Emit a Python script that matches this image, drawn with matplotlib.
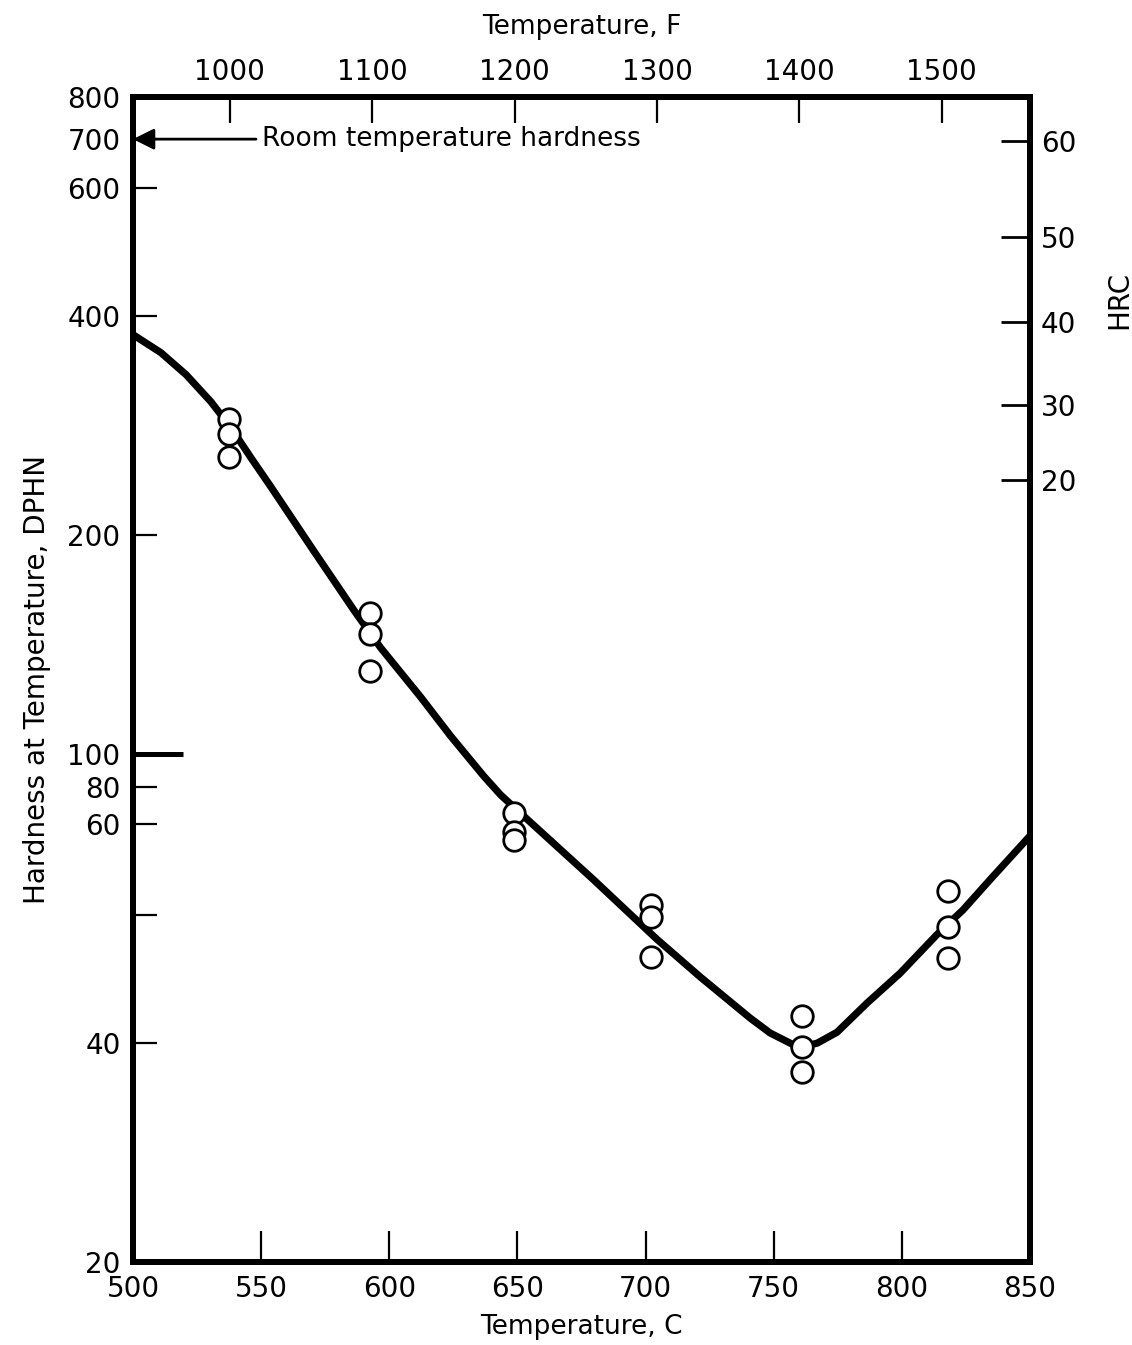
import matplotlib
matplotlib.use("Agg")
import matplotlib.pyplot as plt
from matplotlib.ticker import FixedLocator, NullLocator

# --- data ---
# measured points, temperature in C and hardness (DPHN), three per temperature
point_temp_c = [537.5, 537.5, 537.5, 592.5, 592.5, 592.5, 648.5, 648.5, 648.5,
                702, 702, 702, 761, 761, 761, 818, 818, 818]
point_hardness = [289, 275, 256, 156, 146, 130, 83, 78, 76,
                  62, 59.6, 52.5, 43.6, 39.5, 36.5, 64.7, 57.8, 52.4]

# hand drawn curve through the points
curve_temp_c = [500, 510.9, 520.7, 530.4, 538.2, 546.0, 553.8, 570.5, 586.1, 596.6,
                612.2, 623.9, 636.8, 643.4, 652.4, 679.7, 704.6, 721.4, 740.8, 748.6,
                757.6, 762.3, 767.0, 774.7, 786.4, 799.3, 813.7, 823.9, 834.4, 850]
curve_hardness = [376.9, 356.0, 332.1, 304.8, 280.8, 255.3, 232.8, 190.1, 157.7, 139.9,
                  119.7, 105.8, 93.2, 87.8, 82.1, 67.1, 55.5, 49.3, 43.3, 41.3,
                  39.8, 39.6, 40.0, 41.4, 45.4, 49.9, 56.4, 61.0, 67.1, 77.1]

# axis ticks (left labels sit where the original chart put them)
c_ticks = [500, 550, 600, 650, 700, 750, 800, 850]
f_ticks = [1000, 1100, 1200, 1300, 1400, 1500]
dphn_tick_pos = [800, 700, 600, 400, 200, 100, 90, 80, 60, 40, 20]
dphn_tick_lbl = ['800', '700', '600', '400', '200', '100', '80', '60', '', '40', '20']
hrc_tick_pos = [697, 513, 392, 302, 238]      # DPHN equivalent of the HRC values
hrc_tick_lbl = ['60', '50', '40', '30', '20']
room_temp_hardness = 700


def c_to_f(c):
    return c * 9.0 / 5.0 + 32.0


def f_to_c(f):
    return (f - 32.0) * 5.0 / 9.0


plt.rcParams['font.family'] = ['DejaVu Sans']
plt.rcParams['font.size'] = 20

fig = plt.figure(figsize=(11.32, 13.45), dpi=100)
ax = fig.add_axes([0.1175, 0.0617, 0.7924, 0.8662])

# curve and open circles
ax.plot(curve_temp_c, curve_hardness, color='black', lw=5.2, solid_joinstyle='round',
        solid_capstyle='butt', zorder=2)
ax.plot(point_temp_c, point_hardness, 'o', ms=15.5, mfc='white', mec='black', mew=2,
        zorder=3, clip_on=False)

ax.set_yscale('log')
ax.set_xlim(500, 850)
ax.set_ylim(20, 800)

ax.xaxis.set_major_locator(FixedLocator(c_ticks))
ax.yaxis.set_major_locator(FixedLocator(dphn_tick_pos))
ax.yaxis.set_minor_locator(NullLocator())
ax.set_yticklabels(dphn_tick_lbl)

for s in ax.spines.values():
    s.set_linewidth(4.3)

ax.tick_params(axis='x', which='major', direction='in', length=22, width=1.6, pad=9,
               labelsize=20, bottom=True, top=False)
ax.tick_params(axis='y', which='major', direction='in', length=17, width=1.6, pad=9,
               labelsize=20, left=True, right=False)

# the 100 tick on the original is longer and heavier
for t, v in zip(ax.yaxis.get_major_ticks(), dphn_tick_pos):
    if v == 100:
        t.tick1line.set_markersize(36)
        t.tick1line.set_markeredgewidth(3.6)

ax.set_xlabel('Temperature, C', fontsize=19, labelpad=8)
ax.set_ylabel('Hardness at Temperature, DPHN', fontsize=20, labelpad=12)

# top axis in Fahrenheit
top = ax.secondary_xaxis('top', functions=(c_to_f, f_to_c))
top.set_xticks(f_ticks)
top.tick_params(direction='in', length=19, width=1.6, pad=8, labelsize=20)
top.spines['top'].set_linewidth(4.3)
top.set_xlabel('Temperature, F', fontsize=19, labelpad=17)

# right axis in Rockwell C
right = ax.twinx()
right.set_yscale('log')
right.set_ylim(ax.get_ylim())
right.yaxis.set_major_locator(FixedLocator(hrc_tick_pos))
right.yaxis.set_minor_locator(NullLocator())
right.set_yticklabels(hrc_tick_lbl)
right.tick_params(axis='y', direction='in', length=21, width=2, pad=8, labelsize=20)
for s in right.spines.values():
    s.set_linewidth(4.3)
right.text(1.10, 0.826, 'HRC', transform=ax.transAxes, rotation=90,
           ha='center', va='center', fontsize=20)

# room temperature hardness arrow
ax.annotate('', xy=(500, room_temp_hardness), xytext=(548, room_temp_hardness),
            arrowprops=dict(arrowstyle='-|>', color='black', lw=2, mutation_scale=32,
                            shrinkA=0, shrinkB=0))
ax.text(550.5, room_temp_hardness, 'Room temperature hardness', ha='left', va='center',
        fontsize=19)

fig.savefig('out.png', dpi=100)
